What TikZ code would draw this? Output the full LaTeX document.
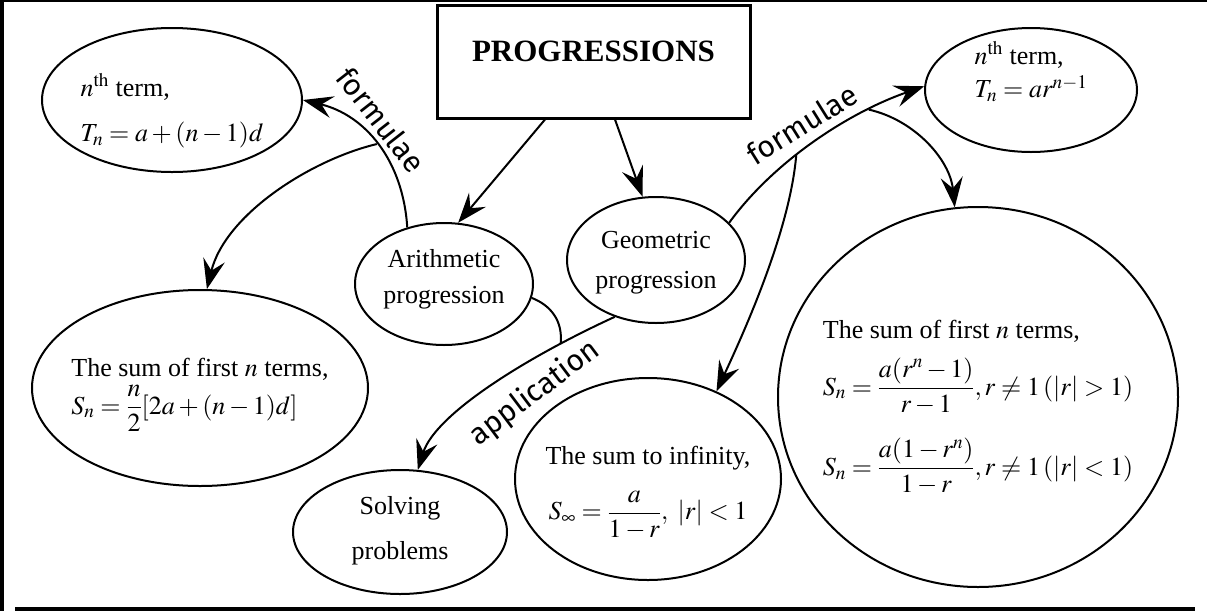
\documentclass[tikz,border=0pt]{standalone}
\usepackage{amsmath}
\usepackage{mathptmx}
\usepackage{fontspec}
\setmainfont{Liberation Serif}
\newfontfamily\handfont{Fira Sans}
\usetikzlibrary{shapes.geometric,arrows.meta}
\newcommand\ntext[3]{\smash{\makebox[0pt]{\raisebox{#1}{\begin{tabular}{@{}#2@{}}#3\end{tabular}}}}}
\begin{document}
\begin{tikzpicture}[x=1pt,y=-1pt,
  ell/.style={draw, ellipse, line width=2pt, inner sep=0pt, font=\fontsize{26}{30}\selectfont},
  conn/.style={line width=2pt, -{Stealth[length=30pt,width=22pt,inset=11pt]}},
  link/.style={line width=2pt},
  hand/.style={font=\handfont\fontsize{30}{34}\selectfont, inner sep=0pt}]
\useasboundingbox (0,0) rectangle (1207,611);
\fill[black] (0,0) rectangle (4,611);
\fill[black] (0,0) rectangle (1207,1.5);
\fill[black] (15,607) rectangle (1195,611);

\node[draw, line width=3pt, minimum width=313pt, minimum height=113pt, inner sep=0pt,
  font=\bfseries\fontsize{31}{36}\selectfont] (prog) at (593.5,61.5) {\smash{PROGRESSIONS}};

\node[ell, minimum width=260pt, minimum height=144pt] (apn) at (172,100)
  {\ntext{-18.5pt}{l}{$n^{\mathrm{th}}$ term,\\[15pt] $T_n=a+(n-1)d$}};
\node[ell, minimum width=212pt, minimum height=124pt] (gpn) at (1031,90)
  {\ntext{9.5pt}{l}{$n^{\mathrm{th}}$ term,\\[2pt] $T_n=ar^{n-1}$}};
\node[ell, minimum width=178pt, minimum height=122pt] (arith) at (444,284)
  {\ntext{-2pt}{c}{Arithmetic\\[6pt] progression}};
\node[ell, minimum width=178pt, minimum height=126pt] (geo) at (656,260)
  {\ntext{-9pt}{c}{Geometric\\[10pt] progression}};
\node[ell, minimum width=336pt, minimum height=196pt] (sumAP) at (200,388)
  {\ntext{-12pt}{l}{The sum of first $n$ terms,\\ $S_n=\dfrac{n}{2}[2a+(n-1)d]$}};
\node[ell, minimum width=214pt, minimum height=124pt] (solving) at (400,532)
  {\ntext{-5.5pt}{c}{Solving\\[15pt] problems}};
\node[ell, minimum width=266pt, minimum height=202pt] (sumInf) at (648,479)
  {\ntext{-19pt}{c}{The sum to infinity,\\[18pt] $S_\infty=\dfrac{a}{1-r},\ |r|<1$}};
\node[ell, minimum width=400pt, minimum height=380pt] (bigc) at (978,397)
  {\ntext{-16pt}{l}{The sum of first $n$ terms,\\[10pt]
   $S_n=\dfrac{a(r^n-1)}{r-1}, r\neq 1\,(|r|>1)$\\[34pt]
   $S_n=\dfrac{a(1-r^n)}{1-r}, r\neq 1\,(|r|<1)$}};

\draw[conn] ([xshift=-48.5pt]prog.south) -- (arith.77);
\draw[conn] ([xshift=21.5pt]prog.south) -- (geo.102);
\draw[conn] (arith.123) .. controls (403,160) and (365,115) .. (apn.east) coordinate[pos=0.5] (apb);
\draw[conn] (apb) .. controls (310,160) and (225,215) .. (sumAP.86);
\draw[conn] (geo.27) .. controls (775,160) and (850,112) .. (gpn.178)
  coordinate[pos=0.4] (gb1) coordinate[pos=0.75] (gb2);
\draw[conn] (gb2) .. controls (915,120) and (950,160) .. (bigc.97);
\draw[conn] (gb1) .. controls (790,230) and (745,330) .. (sumInf.52);
\draw[conn] (geo.234) .. controls (523,359) and (435,415) .. (solving.74) coordinate[pos=0.2] (appj);
\draw[link] (arith.-9) .. controls (550,305) and (563,320) .. (appj);

\node[hand, rotate=-52] (lf1) at (381,120) {formulae};
\node[hand, rotate=32] (lf2) at (802,124) {formulae};
\node[hand, rotate=37] (lapp) at (535,393) {application};
\end{tikzpicture}
\end{document}
